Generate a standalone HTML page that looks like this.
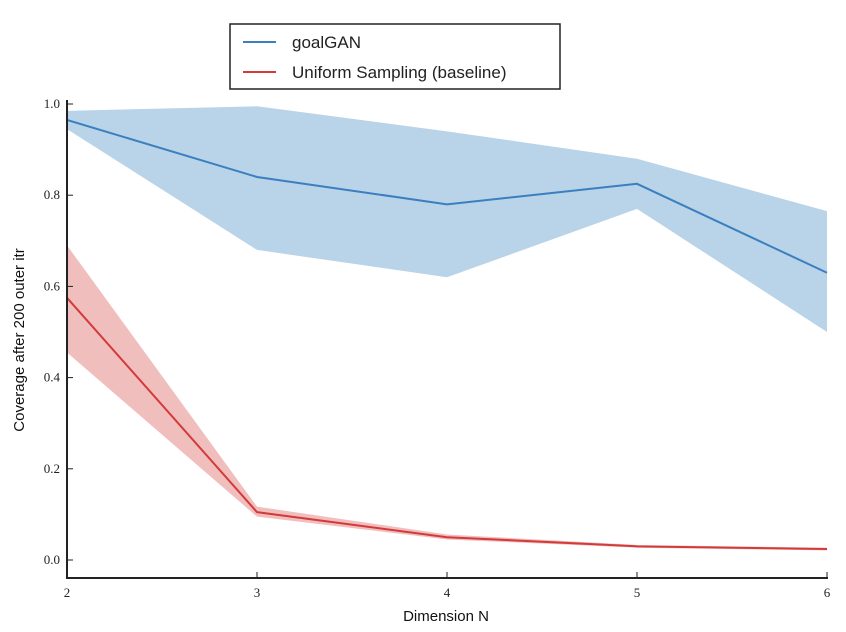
<!DOCTYPE html>
<html><head><meta charset="utf-8"><style>
body{margin:0;background:#fff;width:846px;height:632px;overflow:hidden}
svg{display:block}
.tk{font-family:"Liberation Serif",serif;font-size:13px;fill:#222}
.lb{font-family:"Liberation Sans",sans-serif;font-size:15px;fill:#111}
</style></head><body>
<svg id="chart" width="846" height="632">
<g id="bands"></g><g id="lines"></g><g id="axes"></g>
<rect x="230" y="24" width="330" height="65" fill="#fff" stroke="#222" stroke-width="1.5"/>
<line x1="243" y1="42" x2="276" y2="42" stroke="#3a7fbf" stroke-width="2"/>
<text x="292" y="48" font-family="Liberation Sans, sans-serif" font-size="17" fill="#222">goalGAN</text>
<line x1="243" y1="72" x2="276" y2="72" stroke="#d33a3a" stroke-width="2"/>
<text x="292" y="78" font-family="Liberation Sans, sans-serif" font-size="17" fill="#222">Uniform Sampling (baseline)</text>
<text class="lb" x="446" y="621" text-anchor="middle">Dimension N</text>
<text class="lb" transform="translate(24,340) rotate(-90)" text-anchor="middle">Coverage after 200 outer itr</text>
</svg>
<script>
const dims=[2,3,4,5,6];
const ganMean=[0.965,0.84,0.78,0.825,0.63];
const ganUpper=[0.985,0.995,0.94,0.88,0.765];
const ganLower=[0.945,0.68,0.62,0.77,0.50];
const uniMean=[0.575,0.105,0.05,0.03,0.024];
const uniUpper=[0.69,0.117,0.056,0.033,0.027];
const uniLower=[0.455,0.095,0.045,0.027,0.021];
const xTicks=[2,3,4,5,6];
const yTicks=[0.0,0.2,0.4,0.6,0.8,1.0];
const NS='http://www.w3.org/2000/svg';
const X=v=>67+(v-2)*190;
const Y=v=>560-v*456;
function mk(t,a,p){const e=document.createElementNS(NS,t);for(const k in a)e.setAttribute(k,a[k]);document.getElementById(p).appendChild(e);return e;}
function band(up,lo,fill,name){
 let d='M'+dims.map((x,i)=>X(x)+','+Y(up[i])).join('L')+'L'+dims.slice().reverse().map((x,j)=>X(x)+','+Y(lo[dims.length-1-j])).join('L')+'Z';
 const e=mk('path',{d:d,fill:fill},'bands');
 
 
}
function line(m,c,name){
 const e=mk('polyline',{points:dims.map((x,i)=>X(x)+','+Y(m[i])).join(' '),fill:'none',stroke:c,'stroke-width':2},'lines');
 
 
}
band(ganUpper,ganLower,'rgba(120,170,210,0.52)','goalgan-band');
band(uniUpper,uniLower,'rgba(225,110,110,0.45)','uniform-band');
line(ganMean,'#3a7fbf','goalgan-line');
line(uniMean,'#d33a3a','uniform-line');
let a=mk('line',{x1:67,y1:100,x2:67,y2:578,stroke:'#222','stroke-width':2},'axes');


a=mk('line',{x1:66,y1:578,x2:828,y2:578,stroke:'#222','stroke-width':2},'axes');


xTicks.forEach(v=>{
 mk('line',{x1:X(v),y1:578,x2:X(v),y2:572,stroke:'#222','stroke-width':1},'axes');
 const t=mk('text',{x:X(v),y:597,'text-anchor':'middle',class:'tk'},'axes');t.textContent=v;
 
 
});
yTicks.forEach(v=>{
 mk('line',{x1:67,y1:Y(v),x2:73,y2:Y(v),stroke:'#222','stroke-width':1},'axes');
 const t=mk('text',{x:60,y:Y(v)+4,'text-anchor':'end',class:'tk'},'axes');t.textContent=v.toFixed(1);
 
 
});
</script>
</body></html>
